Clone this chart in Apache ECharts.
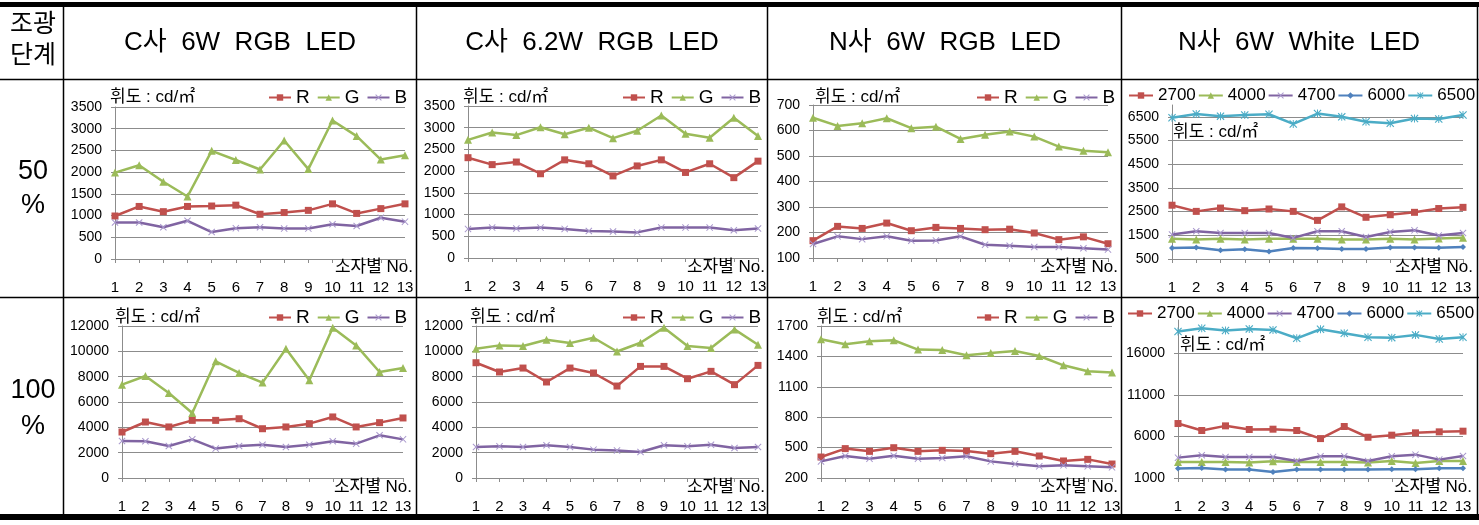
<!DOCTYPE html>
<html>
<head>
<meta charset="utf-8">
<script src="https://cdn.jsdelivr.net/npm/echarts@6/dist/echarts.min.js"></script>
<style>
  html, body { margin: 0; padding: 0; background: #fff; }
  #chart { width: 1479px; height: 525px; }
</style>
</head>
<body>
<div id="chart"></div>
<script>
// 소자별 No.
const noLabels = ['1', '2', '3', '4', '5', '6', '7', '8', '9', '10', '11', '12', '13'];

// C사 6W RGB LED - 50%
const c6w50R = [990, 1210, 1090, 1210, 1220, 1240, 1030, 1070, 1120, 1270, 1050, 1160, 1270];
const c6w50G = [1990, 2160, 1780, 1440, 2490, 2280, 2060, 2730, 2070, 3190, 2830, 2290, 2390];
const c6w50B = [840, 840, 730, 880, 620, 710, 730, 700, 700, 800, 760, 950, 860];

// C사 6.2W RGB LED - 50%
const c62w50R = [2310, 2150, 2210, 1940, 2260, 2170, 1890, 2120, 2260, 1970, 2170, 1850, 2230];
const c62w50G = [2720, 2890, 2830, 3010, 2850, 3000, 2760, 2930, 3280, 2860, 2770, 3230, 2810];
const c62w50B = [670, 700, 680, 700, 670, 620, 610, 590, 700, 700, 700, 640, 680];

// N사 6W RGB LED - 50%
const n6w50R = [168, 224, 216, 237, 207, 220, 216, 211, 213, 198, 172, 183, 156];
const n6w50G = [650, 618, 628, 648, 609, 615, 567, 583, 596, 576, 537, 521, 515];
const n6w50B = [155, 185, 174, 185, 168, 169, 185, 152, 148, 143, 143, 138, 133];

// N사 6W White LED - 50%
const nw50_2700 = [2770, 2510, 2650, 2540, 2610, 2510, 2130, 2700, 2260, 2370, 2470, 2630, 2680];
const nw50_4000 = [1350, 1320, 1350, 1320, 1350, 1350, 1350, 1320, 1320, 1350, 1320, 1370, 1400];
const nw50_4700 = [1530, 1670, 1600, 1600, 1600, 1390, 1670, 1670, 1430, 1640, 1710, 1490, 1600];
const nw50_6000 = [965, 990, 870, 910, 820, 965, 950, 920, 920, 990, 990, 980, 1010];
const nw50_6500 = [6460, 6620, 6530, 6580, 6610, 6200, 6640, 6500, 6290, 6230, 6430, 6410, 6580];

// C사 6W RGB LED - 100%
const c6w100R = [3630, 4420, 4030, 4550, 4550, 4680, 3890, 4030, 4290, 4820, 4030, 4370, 4740];
const c6w100G = [7370, 8050, 6710, 5130, 9210, 8290, 7530, 10210, 7710, 11870, 10470, 8370, 8680];
const c6w100B = [2920, 2900, 2530, 3050, 2320, 2530, 2630, 2450, 2630, 2900, 2710, 3370, 3050];

// C사 6.2W RGB LED - 100%
const c62w100R = [9100, 8370, 8680, 7580, 8680, 8290, 7260, 8810, 8810, 7840, 8420, 7370, 8890];
const c62w100G = [10210, 10470, 10420, 10920, 10650, 11070, 9990, 10680, 11870, 10420, 10260, 11730, 10520];
const c62w100B = [2450, 2500, 2450, 2580, 2450, 2240, 2180, 2050, 2580, 2500, 2630, 2370, 2450];

// N사 6W RGB LED - 100%
const n6w100R = [407, 490, 463, 499, 463, 473, 466, 440, 463, 417, 368, 384, 338];
const n6w100G = [1569, 1519, 1549, 1559, 1467, 1463, 1411, 1434, 1453, 1404, 1312, 1253, 1240];
const n6w100B = [364, 417, 391, 420, 391, 397, 414, 364, 338, 315, 325, 315, 305];

// N사 6W White LED - 100%
const nw100_2700 = [7550, 6710, 7270, 6830, 6870, 6710, 5740, 7190, 5900, 6150, 6430, 6550, 6630];
const nw100_4000 = [2930, 2930, 2930, 2850, 3010, 2930, 2930, 2930, 2850, 3050, 2810, 3050, 3050];
const nw100_4700 = [3450, 3730, 3530, 3530, 3530, 3050, 3610, 3610, 3050, 3610, 3810, 3210, 3650];
const nw100_6000 = [2130, 2210, 2010, 2010, 1720, 2010, 2010, 2010, 2010, 2050, 2050, 2170, 2170];
const nw100_6500 = [18610, 19010, 18730, 18930, 18810, 17800, 18890, 18410, 17920, 17880, 18210, 17720, 17920];

// y축 범위 [min, max, interval]
const yC50 = [0, 3500, 500];
const yN50 = [100, 700, 100];
const yW50 = [500, 7000, 1000];
const yC100 = [0, 12000, 2000];
const yN100 = [200, 1700, 300];
const yW100 = [1000, 20000, 5000];

const titles = ['C사  6W  RGB  LED', 'C사  6.2W  RGB  LED', 'N사  6W  RGB  LED', 'N사  6W  White  LED'];
const unitText = '휘도 : cd/㎡';
const xName = '소자별 No.';

const FONT = '"Liberation Sans", "Noto Sans CJK KR", sans-serif';
const GRID_COLOR = '#8c8c8c';
const X_MARK = 'path://M0,1L1,0L5,4L9,0L10,1L6,5L10,9L9,10L5,6L1,10L0,9L4,5Z';
const STAR_MARK = X_MARK + 'M4.4,0L5.6,0L5.6,10L4.4,10Z';

const looks = {
  'R':    { symbol: 'rect', size: 7, line: '#C0504D', mark: '#C0504D' },
  'G':    { symbol: 'triangle', size: 8, line: '#9BBB59', mark: '#9BBB59' },
  'B':    { symbol: X_MARK, size: 7, line: '#8064A2', mark: '#A897CC' },
  '2700': { symbol: 'rect', size: 7, line: '#C0504D', mark: '#C0504D' },
  '4000': { symbol: 'triangle', size: 8, line: '#9BBB59', mark: '#9BBB59' },
  '4700': { symbol: X_MARK, size: 7, line: '#8064A2', mark: '#A897CC' },
  '6000': { symbol: 'diamond', size: 6, line: '#4F81BD', mark: '#4F81BD' },
  '6500': { symbol: STAR_MARK, size: 8, line: '#4BACC6', mark: '#4BACC6' }
};

const panels = [
  { grid: [115, 107, 290, 152], y: yC50, hideMax: false, legend: [268, 88], unit: [110, 97], xn: [413, 267],
    series: [['R', c6w50R], ['G', c6w50G], ['B', c6w50B]] },
  { grid: [468, 106, 290, 152], y: yC50, hideMax: false, legend: [622, 88], unit: [463, 97], xn: [765, 267],
    series: [['R', c62w50R], ['G', c62w50G], ['B', c62w50B]] },
  { grid: [813, 105, 295, 153], y: yN50, hideMax: false, legend: [976, 88], unit: [815, 97], xn: [1118, 267],
    series: [['R', n6w50R], ['G', n6w50G], ['B', n6w50B]] },
  { grid: [1172, 105, 291, 154], y: yW50, hideMax: true, legend: [1128, 87], unit: [1173, 132], xn: [1473, 267],
    series: [['2700', nw50_2700], ['4000', nw50_4000], ['4700', nw50_4700], ['6000', nw50_6000], ['6500', nw50_6500]] },
  { grid: [122, 326, 281, 152], y: yC100, hideMax: false, legend: [268, 308], unit: [115, 317], xn: [412, 487],
    series: [['R', c6w100R], ['G', c6w100G], ['B', c6w100B]] },
  { grid: [476, 326, 282, 152], y: yC100, hideMax: false, legend: [622, 308], unit: [470, 317], xn: [765, 487],
    series: [['R', c62w100R], ['G', c62w100G], ['B', c62w100B]] },
  { grid: [821, 326, 291, 152], y: yN100, hideMax: false, legend: [976, 308], unit: [817, 317], xn: [1118, 487],
    series: [['R', n6w100R], ['G', n6w100G], ['B', n6w100B]] },
  { grid: [1178, 320, 285, 158], y: yW100, hideMax: true, legend: [1127, 305], unit: [1180, 345], xn: [1472, 487],
    series: [['2700', nw100_2700], ['4000', nw100_4000], ['4700', nw100_4700], ['6000', nw100_6000], ['6500', nw100_6500]] }
];

const grids = [], xAxes = [], yAxes = [], legends = [], seriesList = [];
const graphics = [];

panels.forEach((p, i) => {
  grids.push({ left: p.grid[0], top: p.grid[1], width: p.grid[2], height: p.grid[3], containLabel: false });
  xAxes.push({
    type: 'category', gridIndex: i, data: noLabels, boundaryGap: false,
    axisLine: { onZero: false, lineStyle: { color: GRID_COLOR, width: 1 } },
    axisTick: { show: true, length: 4, lineStyle: { color: GRID_COLOR } },
    axisLabel: { interval: 0, fontSize: 15, color: '#000', fontFamily: FONT, margin: 21 },
    splitLine: { show: false }
  });
  yAxes.push({
    type: 'value', gridIndex: i, min: p.y[0], max: p.y[1], interval: p.y[2],
    axisLine: { show: true, lineStyle: { color: GRID_COLOR, width: 1 } },
    axisTick: { show: true, length: 4, lineStyle: { color: GRID_COLOR } },
    splitLine: { show: true, showMaxLine: !p.hideMax, lineStyle: { color: GRID_COLOR, width: 1 } },
    axisLabel: {
      fontSize: 14, color: '#000', fontFamily: FONT, margin: 13,
      showMinLabel: true, showMaxLabel: !p.hideMax,
      formatter: v => String(v)
    }
  });
  const wide = p.series.length > 3;
  legends.push({
    left: p.legend[0], top: p.legend[1], padding: 0, orient: 'horizontal',
    itemWidth: wide ? 24 : 22, itemHeight: 8, itemGap: wide ? 2 : 7,
    selectedMode: false,
    data: p.series.map(s => s[0]),
    textStyle: { fontSize: wide ? 17 : 19, color: '#000', fontFamily: FONT }
  });
  p.series.forEach(([name, data], k) => {
    const lk = looks[name];
    seriesList.push({
      type: 'line', name: name, xAxisIndex: i, yAxisIndex: i, data: data,
      symbol: lk.symbol, symbolSize: lk.size, showSymbol: true, showAllSymbol: true,
      lineStyle: { color: lk.line, width: 2.5 },
      itemStyle: { color: lk.mark, borderWidth: 0 },
      z: 3 + k
    });
  });
  graphics.push({
    type: 'text', x: p.unit[0], y: p.unit[1], z: 20,
    style: { text: unitText, fontSize: 17, fontFamily: FONT, fill: '#000', align: 'left', verticalAlign: 'middle' }
  });
  graphics.push({
    type: 'text', x: p.xn[0], y: p.xn[1], z: 20,
    style: { text: xName, fontSize: 17, fontFamily: FONT, fill: '#000', align: 'right', verticalAlign: 'middle' }
  });
});

// 표 테두리
graphics.push({ type: 'rect', shape: { x: 0, y: 2, width: 1479, height: 5 }, style: { fill: '#000' } });
graphics.push({ type: 'rect', shape: { x: 0, y: 514, width: 1479, height: 6 }, style: { fill: '#000' } });
[79.5, 297.5].forEach(yy => {
  graphics.push({ type: 'line', shape: { x1: 0, y1: yy, x2: 1479, y2: yy }, style: { stroke: '#000', lineWidth: 1.5 } });
});
[63.5, 416.5, 767.5, 1121.5, 1477.5].forEach(xx => {
  graphics.push({ type: 'line', shape: { x1: xx, y1: 7, x2: xx, y2: 514 }, style: { stroke: '#000', lineWidth: 1.5 } });
});

// 머리글
const colCenters = [240, 592, 945, 1299];
titles.forEach((t, i) => {
  graphics.push({
    type: 'text', x: colCenters[i], y: 43,
    style: { text: t, fontSize: 26, fontFamily: FONT, fill: '#000', align: 'center', verticalAlign: 'middle' }
  });
});
const leftTexts = [['조광', 25, 25], ['단계', 56, 25], ['50', 172, 27], ['%', 206, 27], ['100', 391, 27], ['%', 427, 27]];
leftTexts.forEach(([t, yy, fs]) => {
  graphics.push({
    type: 'text', x: 33, y: yy,
    style: { text: t, fontSize: fs, fontFamily: FONT, fill: '#000', align: 'center', verticalAlign: 'middle' }
  });
});

const chart = echarts.init(document.getElementById('chart'));
chart.setOption({
  animation: false,
  backgroundColor: '#fff',
  grid: grids,
  xAxis: xAxes,
  yAxis: yAxes,
  legend: legends,
  series: seriesList,
  graphic: graphics
});
window.addEventListener('resize', () => chart.resize());
</script>
</body>
</html>
